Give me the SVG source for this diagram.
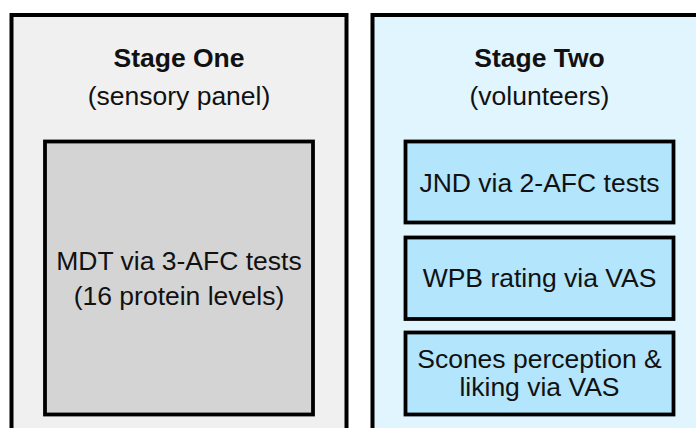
<svg xmlns="http://www.w3.org/2000/svg" width="696" height="428" viewBox="0 0 696 428">
<style>
text{font-family:"Liberation Sans",Arial,sans-serif;font-size:26.5px;fill:#111;text-anchor:middle}
.b{font-weight:bold}
.outer{stroke:#000;stroke-width:4}
.inner{stroke:#000;stroke-width:3.8}
</style>
<rect width="696" height="428" fill="#fff"/>
<g id="stage-one">
<rect class="outer" x="11.5" y="15" width="335" height="440" fill="#f0f0f0"/>
<text class="b" x="179" y="67">Stage One</text>
<text x="179" y="105">(sensory panel)</text>
</g>
<g id="stage-two">
<rect class="outer" x="372.5" y="15" width="360" height="440" fill="#e1f5fe"/>
<text class="b" x="539.5" y="67">Stage Two</text>
<text x="539.5" y="105">(volunteers)</text>
</g>
<g id="mdt">
<rect class="inner" x="45" y="141.5" width="268" height="273" fill="#d4d4d4"/>
<text x="179" y="270">MDT via 3-AFC tests</text>
<text x="179" y="305">(16 protein levels)</text>
</g>
<g id="jnd">
<rect class="inner" x="405.5" y="141.5" width="268" height="81" fill="#b3e5fc"/>
<text x="539.5" y="192">JND via 2-AFC tests</text>
</g>
<g id="wpb">
<rect class="inner" x="405.5" y="237.5" width="268" height="81.5" fill="#b3e5fc"/>
<text x="539.5" y="287">WPB rating via VAS</text>
</g>
<g id="scones">
<rect class="inner" x="405.5" y="332.5" width="268" height="82" fill="#b3e5fc"/>
<text x="539.5" y="368">Scones perception &amp;</text>
<text x="539.5" y="396">liking via VAS</text>
</g>
<g id="connectors"></g>
</svg>
